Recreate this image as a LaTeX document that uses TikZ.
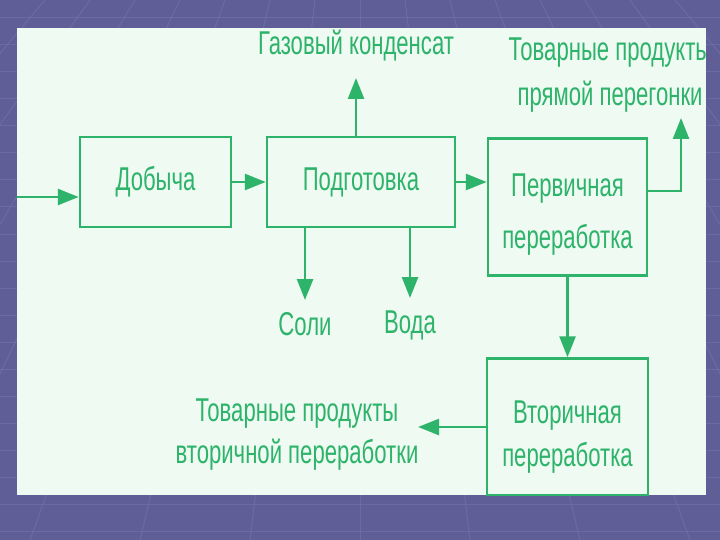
\documentclass[tikz,border=0pt]{standalone}
\usepackage{fontspec}
\setmainfont[FakeStretch=0.67]{Liberation Sans}
\usetikzlibrary{arrows.meta}
\definecolor{bgp}{HTML}{5F5E96}
\definecolor{bgl}{HTML}{7473AA}
\definecolor{panel}{HTML}{EEFAF2}
\definecolor{gr}{HTML}{2EB36A}
\newcommand{\toppad}{\rule{0pt}{38pt}}
\tikzset{
  box/.style={draw=gr, line width=2.5pt, inner sep=0pt, text=gr, align=center},
  arr/.style={draw=gr, line width=2.5pt, -{Triangle[length=21pt,width=16pt]}},
  lbl/.style={text=gr, align=center, inner sep=0pt},
  bgline/.style={draw=bgl, line width=1pt, opacity=0.6}
}
\begin{document}
\begin{tikzpicture}[x=1pt,y=-1pt]
  \fill[bgp] (0,0) rectangle (720,540);
  \useasboundingbox (0,0) rectangle (720,540);
  \foreach \y in {18,45,...,540} \draw[bgline] (0,\y) -- (720,\y);
  \foreach \i in {-8,...,8} \draw[bgline] (360+\i*45,0) -- (360+\i*110,540);
  \fill[panel] (17,28) rectangle (706,495);
  \begin{scope}
    \clip (17,28) rectangle (706,495);
    \node[box, minimum width=151pt, minimum height=90pt, font=\fontsize{33}{48}\selectfont] (dob) at (155.5,182) {Добыча};
    \node[box, minimum width=188pt, minimum height=90pt, font=\fontsize{33}{48}\selectfont] (pod) at (361,182) {Подготовка};
    \node[box, minimum width=159pt, minimum height=137pt, font=\fontsize{33}{52}\selectfont] (perv) at (567.5,207) {\toppad Первичная\\переработка};
    \node[box, minimum width=161pt, minimum height=137pt, font=\fontsize{33}{43}\selectfont] (vtor) at (567.5,427) {\rule{0pt}{42pt}Вторичная\\переработка};
    \node[lbl, font=\fontsize{33}{44}\selectfont] (gaz) at (356,46) {Газовый конденсат};
    \node[lbl, font=\fontsize{33}{45}\selectfont] (tpp) at (610,75) {Товарные продукты\\прямой перегонки};
    \node[lbl, font=\fontsize{33}{44}\selectfont] (soli) at (305,324) {Соли};
    \node[lbl, font=\fontsize{33}{44}\selectfont] (voda) at (410,325) {Вода};
    \node[lbl, font=\fontsize{33}{42}\selectfont] (tvp) at (297,435) {Товарные продукты\\вторичной переработки};
    \coordinate (in) at (17,197);
    \coordinate (gtip) at (356,78);
    \coordinate (stip) at (305,300);
    \coordinate (vtip) at (410,298);
    \coordinate (ptip) at (681,118);
    \coordinate (ttip) at (418,427);
    \draw[arr] (in) -- (in -| dob.west);
    \draw[arr] (dob.east) -- (pod.west);
    \draw[arr] (pod.east) -- (perv.west |- pod.east);
    \draw[arr] (pod.north -| gtip) -- (gtip);
    \draw[arr] (pod.south -| stip) -- (stip);
    \draw[arr] (pod.south -| vtip) -- (vtip);
    \draw[arr] (perv.east |- 0,191) -- (ptip |- 0,191) -- (ptip);
    \draw[arr] (perv.south) -- (vtor.north);
    \draw[arr] (vtor.west) -- (ttip);
  \end{scope}
\end{tikzpicture}
\end{document}
